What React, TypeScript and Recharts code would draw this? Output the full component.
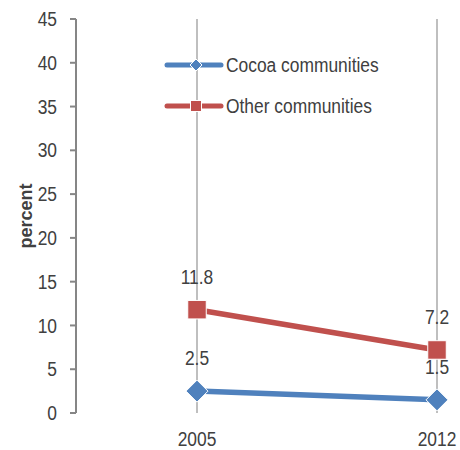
import {
  LineChart,
  Line,
  XAxis,
  YAxis,
  CartesianGrid,
  Legend,
  LabelList,
  Label,
} from "recharts";

const years = ["2005", "2012"];
const cocoa = [2.5, 1.5];
const other = [11.8, 7.2];
const yTicks = [0, 5, 10, 15, 20, 25, 30, 35, 40, 45];

const BLUE = "#4F81BD";
const RED = "#C0504D";
const TEXT = "#404040";
const FONT = "'Liberation Sans', Arial, sans-serif";
const FS = 20;

const data = years.map((year, i) => ({ year, cocoa: cocoa[i], other: other[i] }));

const series = [
  { key: "cocoa", name: "Cocoa communities", color: BLUE, shape: "diamond" },
  { key: "other", name: "Other communities", color: RED, shape: "square" },
];

// narrow text: regular sans squeezed horizontally
function NText({
  x,
  y,
  anchor = "start",
  dy = "0.355em",
  children,
}: {
  x: number;
  y: number;
  anchor?: "start" | "middle" | "end";
  dy?: string;
  children: any;
}) {
  return (
    <text
      transform={`translate(${x} ${y}) scale(0.87 1)`}
      x={0}
      y={0}
      dy={dy}
      textAnchor={anchor}
      fontSize={FS}
      fill={TEXT}
      fontFamily={FONT}
    >
      {children}
    </text>
  );
}

function Diamond({ cx, cy, r, color }: { cx: number; cy: number; r: number; color: string }) {
  return (
    <path
      d={`M${cx},${cy - r} L${cx + r},${cy} L${cx},${cy + r} L${cx - r},${cy} Z`}
      fill={color}
      stroke="#ffffff"
      strokeWidth={1}
    />
  );
}

function Square({ cx, cy, r, color }: { cx: number; cy: number; r: number; color: string }) {
  return (
    <rect x={cx - r} y={cy - r} width={r * 2} height={r * 2} fill={color} stroke="#ffffff" strokeWidth={1} />
  );
}

function renderLegend() {
  return (
    <svg width={240} height={60} style={{ overflow: "visible" }}>
      {series.map((s, i) => {
        const y = 10 + i * 41;
        return (
          <g key={s.key}>
            <line x1={3} y1={y} x2={57} y2={y} stroke={s.color} strokeWidth={5} strokeLinecap="round" />
            {s.shape === "diamond" ? (
              <Diamond cx={32} cy={y} r={6} color={s.color} />
            ) : (
              <Square cx={32} cy={y} r={5.5} color={s.color} />
            )}
            <NText x={62} y={y}>
              {s.name}
            </NText>
          </g>
        );
      })}
    </svg>
  );
}

const valueLabel = (props: any) => {
  const { x, y, value } = props;
  return (
    <NText x={x} y={y - 33} anchor="middle">
      {value}
    </NText>
  );
};

const YTick = (props: any) => (
  <NText x={props.x} y={props.y} anchor="end">
    {props.payload.value}
  </NText>
);

const XTick = (props: any) => (
  <NText x={props.x} y={props.y + 26} anchor="middle">
    {props.payload.value}
  </NText>
);

export default function App() {
  return (
    <div style={{ position: "absolute", left: 0, top: 0, background: "#fff" }}>
      <LineChart
        width={460}
        height={450}
        data={data}
        margin={{ top: 19, right: 15, bottom: 0, left: 0 }}
      >
        <CartesianGrid horizontal={false} syncWithTicks stroke="#BFBFBF" strokeWidth={2} />
        <XAxis
          dataKey="year"
          axisLine={false}
          tickLine={false}
          tickSize={0}
          tickMargin={0}
          height={37}
          padding={{ left: 121, right: 8 }}
          tick={XTick}
        />
        <YAxis
          domain={[0, 45]}
          ticks={yTicks}
          interval={0}
          width={76}
          tickSize={6}
          tickMargin={13}
          axisLine={{ stroke: "#868686", strokeWidth: 2 }}
          tickLine={{ stroke: "#868686", strokeWidth: 2 }}
          tick={YTick}
        >
          <Label
            content={({ viewBox }: any) => (
              <text
                x={viewBox.x + 26}
                y={viewBox.y + viewBox.height / 2}
                transform={`rotate(-90 ${viewBox.x + 26} ${viewBox.y + viewBox.height / 2})`}
                textAnchor="middle"
                dy="0.35em"
                fontSize={18}
                fontWeight="bold"
                fill={TEXT}
                fontFamily={FONT}
              >
                percent
              </text>
            )}
          />
        </YAxis>
        <Legend
          content={renderLegend}
          layout="vertical"
          align="center"
          verticalAlign="middle"
          wrapperStyle={{ left: 164, top: 55, width: 240 }}
        />
        <Line
          dataKey="other"
          name="Other communities"
          stroke={RED}
          strokeWidth={5.5}
          isAnimationActive={false}
          dot={(p: any) => <Square key={`o${p.index}`} cx={p.cx} cy={p.cy} r={9.25} color={RED} />}
          activeDot={false}
        >
          <LabelList dataKey="other" content={valueLabel} />
        </Line>
        <Line
          dataKey="cocoa"
          name="Cocoa communities"
          stroke={BLUE}
          strokeWidth={5.5}
          isAnimationActive={false}
          dot={(p: any) => <Diamond key={`c${p.index}`} cx={p.cx} cy={p.cy} r={11} color={BLUE} />}
          activeDot={false}
        >
          <LabelList dataKey="cocoa" content={valueLabel} />
        </Line>
      </LineChart>
    </div>
  );
}
